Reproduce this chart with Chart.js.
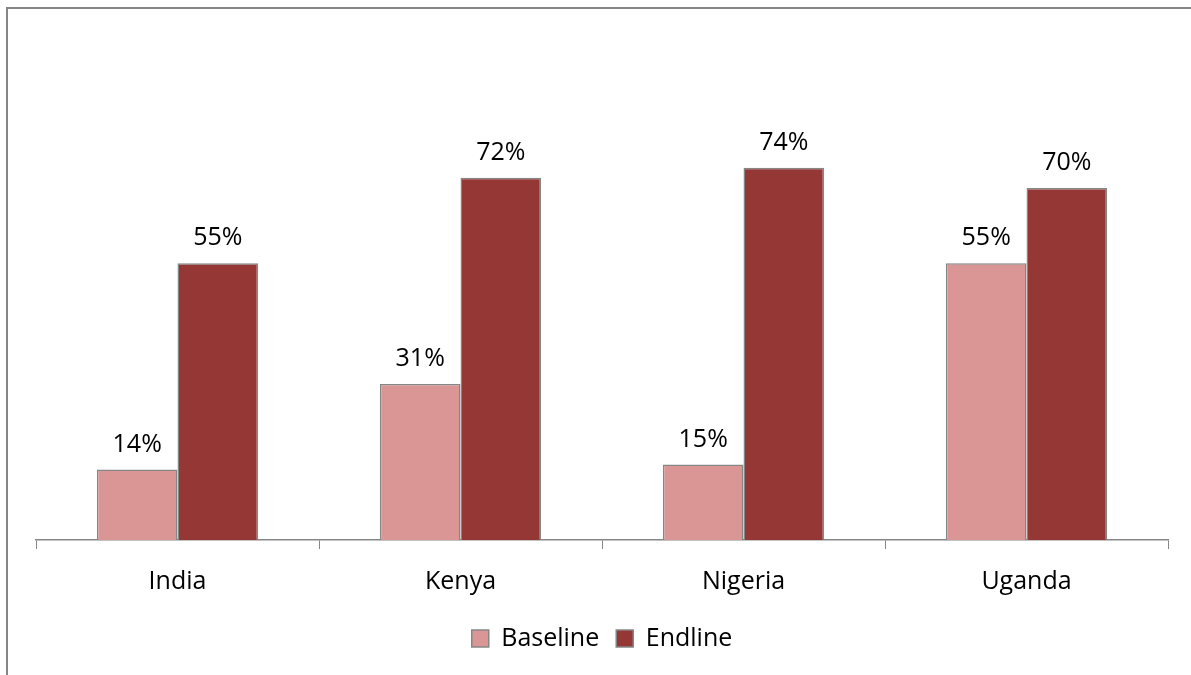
<!DOCTYPE html>
<html>
<head>
<meta charset="utf-8">
<script src="https://cdn.jsdelivr.net/npm/chart.js@4/dist/chart.umd.min.js"></script>
<style>
  html, body { margin: 0; padding: 0; background: #fff; }
  #wrap { position: absolute; left: 0; top: 0; width: 1191px; height: 675px; overflow: hidden; }
  #frame { position: absolute; left: 6px; top: 7px; width: 1300px; height: 800px; border-left: 2px solid #868686; border-top: 2px solid #868686; }
  canvas { position: absolute; left: 0; top: 0; }
</style>
</head>
<body>
<div id="wrap">
  <div id="frame"></div>
  <canvas id="c" width="1191" height="675"></canvas>
</div>
<script>
const categories = ["India", "Kenya", "Nigeria", "Uganda"];
const baseline = [0.14, 0.31, 0.15, 0.55];
const endline = [0.55, 0.72, 0.74, 0.70];
const seriesNames = ["Baseline", "Endline"];

const FONT = "'Open Sans', 'Liberation Sans', sans-serif";

const labelPlugin = {
  id: 'valueLabels',
  afterDatasetsDraw(chart) {
    const ctx = chart.ctx;
    ctx.save();
    ctx.font = "25px " + FONT;
    ctx.fillStyle = "#000";
    ctx.textAlign = "center";
    ctx.textBaseline = "alphabetic";
    chart.data.datasets.forEach((ds, i) => {
      const meta = chart.getDatasetMeta(i);
      meta.data.forEach((bar, j) => {
        const v = ds.data[j];
        ctx.fillText(Math.round(v * 100) + "%", bar.x, bar.y - 18);
      });
    });
    ctx.restore();
  }
};

new Chart(document.getElementById('c'), {
  type: 'bar',
  data: {
    labels: categories,
    datasets: [
      { label: seriesNames[0], data: baseline, backgroundColor: '#D99694', borderColor: '#868686', borderWidth: 1.5, categoryPercentage: 0.57, barPercentage: 1 },
      { label: seriesNames[1], data: endline, backgroundColor: '#953735', borderColor: '#868686', borderWidth: 1.5, categoryPercentage: 0.57, barPercentage: 1 }
    ]
  },
  options: {
    responsive: false,
    animation: false,
    layout: { padding: { left: 36, right: 23, top: 37, bottom: 14 } },
    scales: {
      y: { display: false, min: 0, max: 1 },
      x: {
        afterFit(scale) { scale.height -= 6; },
        grid: { display: true, drawOnChartArea: false, drawTicks: true, tickLength: 9, color: '#868686', offset: true },
        border: { display: true, color: '#868686', width: 1.5 },
        ticks: { color: '#000', font: { family: FONT, size: 25 }, padding: 18 }
      }
    },
    plugins: {
      legend: {
        position: 'bottom',
        labels: { color: '#000', font: { family: FONT, size: 25 }, boxWidth: 17, boxHeight: 17, padding: 17 }
      },
      tooltip: { enabled: false }
    }
  },
  plugins: [labelPlugin]
});
</script>
</body>
</html>
